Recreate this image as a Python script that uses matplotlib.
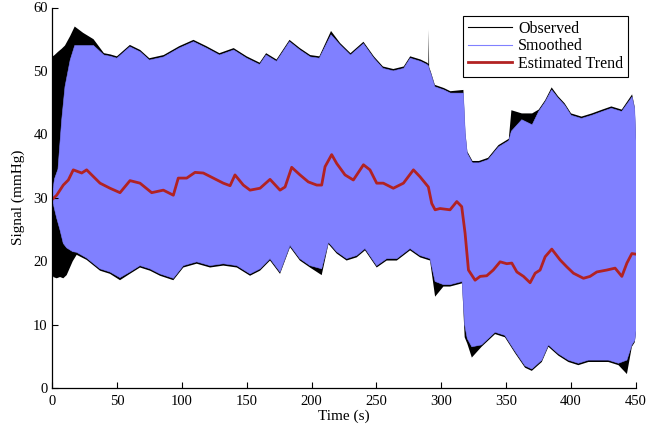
import matplotlib
matplotlib.use("Agg")
import matplotlib.pyplot as plt
from matplotlib.lines import Line2D

# ---- data ----
# upper envelope (time, s)
t_upper = [0, 2, 4.6, 7.5, 10, 14, 17.5, 24, 32, 40, 45, 50, 60, 68, 75, 86, 98, 109, 119, 129,
           140, 150, 160, 165, 173, 183, 191, 199, 206, 215, 222, 230, 240, 248, 255, 263, 271, 276, 284, 289,
           290, 290.3, 290.6, 292, 295, 302, 307, 317, 318.5, 320, 324, 329, 336, 344, 352, 354, 362, 370, 375, 380,
           385, 390, 395, 400, 408, 416, 424, 431, 439, 447, 449, 450]
smoothed_high = [30.5, 33, 34.5, 42.3, 47.5, 51.7, 54.0, 54.0, 54.0, 52.5, 52.3, 52.0, 53.8, 53.0, 51.7, 52.2, 53.6, 54.6, 53.6, 52.5,
                 53.3, 52.0, 51.0, 52.5, 51.5, 54.6, 53.3, 52.2, 52.0, 55.7, 54.1, 52.5, 54.3, 52.0, 50.4, 50.0, 50.4, 52.0, 51.5, 51.0,
                 50.8, 50.6, 50.3, 49.5, 47.5, 47.0, 46.5, 46.5, 40, 37.0, 35.5, 35.5, 36.0, 38.0, 39.0, 40.5, 42.3, 41.5, 43.6, 45.1,
                 47.0, 45.7, 44.6, 43.0, 42.5, 43.0, 43.6, 44.1, 43.6, 45.9, 44, 39]
observed_high = [52.2, 52.5, 53, 53.5, 54, 55.5, 57, 56, 55.0, 52.8, 52.6, 52.3, 54.1, 53.3, 52.0, 52.5, 53.9, 54.9, 53.9, 52.8,
                 53.6, 52.3, 51.3, 52.8, 51.8, 54.9, 53.6, 52.5, 52.3, 56.3, 54.4, 52.8, 54.6, 52.3, 50.7, 50.3, 50.7, 52.3, 51.8, 51.3,
                 51.1, 56.5, 50.6, 49.8, 47.8, 47.3, 46.8, 47.0, 40.3, 37.3, 35.8, 35.8, 36.3, 38.3, 39.3, 43.8, 43.3, 43.3, 43.9, 45.4,
                 47.4, 46.0, 44.9, 43.3, 42.8, 43.3, 43.9, 44.4, 43.9, 46.3, 44.3, 39.3]

# lower envelope
t_lower = [0, 1, 3.6, 6.2, 8.7, 11.3, 16, 19, 26.7, 37, 44.7, 52.4, 60, 67.8, 75.5, 83.2, 93.5, 101.2, 111.5, 121.8,
           132, 142.4, 152.6, 160.3, 168, 175.7, 183.4, 191, 198.8, 207.8, 213, 219.4, 227, 234.8, 241.2, 250.2, 257.9,
           265.7, 275.9, 283.6, 291.3, 295.2, 301.6, 306.7, 316, 318, 320, 323.5, 331, 341.4, 349, 356.8, 364.5, 369.7,
           377.4, 382.5, 390.2, 397.9, 405.6, 413.3, 421, 428.7, 436.5, 443, 446.8, 449, 450]
smoothed_low = [29.2, 29.0, 26.8, 24.9, 22.8, 22.1, 21.5, 21.4, 20.5, 18.8, 18.3, 17.4, 18.3, 19.3, 18.8, 18.0, 17.3, 19.3, 19.9, 19.3,
                19.6, 19.3, 18.0, 18.8, 20.4, 18.3, 22.5, 20.4, 19.3, 18.8, 23.0, 21.5, 20.4, 20.9, 22.0, 19.3, 20.4,
                20.4, 22.0, 20.9, 20.4, 16.8, 16.3, 16.3, 16.8, 10, 7.8, 6.5, 6.8, 8.8, 8.3, 5.8, 3.5, 3.0,
                4.4, 6.8, 5.4, 4.4, 3.9, 4.4, 4.4, 4.4, 3.9, 4.4, 6.8, 7.5, 9]
observed_low = [18.5, 17.5, 17.3, 17.5, 17.3, 17.8, 20.0, 21.0, 20.2, 18.5, 18.0, 17.0, 18.0, 19.0, 18.5, 17.7, 17.0, 19.0, 19.6, 19.0,
                19.3, 19.0, 17.7, 18.5, 20.1, 18.0, 22.2, 20.1, 19.0, 17.8, 22.7, 21.2, 20.1, 20.6, 21.7, 19.0, 20.1,
                20.1, 21.7, 20.6, 20.1, 14.4, 16.0, 16.0, 16.5, 8.0, 7.0, 4.8, 6.5, 8.5, 8.0, 5.5, 3.2, 2.7,
                4.1, 6.5, 5.1, 4.1, 3.6, 4.1, 4.1, 4.1, 3.6, 2.2, 6.5, 7.2, 8.7]

# estimated trend
t_trend = [0, 3.6, 8.7, 12.6, 16.4, 22.9, 26.7, 30.6, 37, 44.7, 52.4, 60.1, 67.8, 76.8, 85.8, 93.5, 97.3, 103.8, 110.2, 116.6,
           124.3, 132, 137.2, 141, 147.4, 152.6, 160.3, 168, 175.7, 179.6, 184.7, 191.1, 197.5, 204, 207.8, 210.4, 215.5, 219.4,
           225.8, 232.2, 240, 245, 250.2, 255.3, 263, 270.8, 278.5, 283.6, 290, 292.6, 295.2, 299, 306.7, 311.9, 315.7, 318.3,
           320.9, 326, 329.9, 335, 340, 345.3, 350.4, 354.3, 358.2, 363.3, 368.4, 372.3, 376.1, 380, 385.1, 391.5, 396.7, 401.8,
           409.5, 414.6, 419.8, 427.5, 433.9, 439.1, 443, 446.8, 450]
trend = [29.7, 30.4, 32.0, 32.8, 34.4, 33.9, 34.4, 33.6, 32.3, 31.5, 30.8, 32.7, 32.3, 30.8, 31.2, 30.4, 33.1, 33.1, 34.0, 33.9,
         33.1, 32.3, 31.9, 33.6, 32.0, 31.2, 31.5, 32.9, 31.2, 31.7, 34.8, 33.6, 32.5, 32.0, 32.0, 34.9, 36.8, 35.4,
         33.6, 32.8, 35.2, 34.4, 32.3, 32.3, 31.5, 32.3, 34.4, 33.3, 31.7, 29.1, 28.1, 28.3, 28.1, 29.4, 28.6, 24.4,
         18.6, 17.0, 17.6, 17.7, 18.6, 19.9, 19.6, 19.7, 18.3, 17.6, 16.6, 18.1, 18.6, 20.7, 21.9, 20.2, 19.1, 18.1,
         17.3, 17.6, 18.3, 18.6, 18.9, 17.6, 19.7, 21.2, 21.1]

x_ticks = [0, 50, 100, 150, 200, 250, 300, 350, 400, 450]
y_ticks = [0, 10, 20, 30, 40, 50, 60]
labels = ["Observed", "Smoothed", "Estimated Trend"]

OBS_C = "#000000"
SM_C = "#8080ff"
TR_C = "#b22222"

plt.rcParams["font.family"] = ["Liberation Serif", "DejaVu Serif"]

fig = plt.figure(figsize=(6.48, 4.28), dpi=100)
ax = fig.add_axes([52 / 648, 40 / 428, 584 / 648, 380.5 / 428])


def band(t_hi, hi, t_lo, lo, color, lw):
    xs = list(t_hi) + list(t_lo)[::-1]
    ys = list(hi) + list(lo)[::-1]
    ax.fill(xs, ys, color=color, lw=lw, ec=color)


band(t_upper, observed_high, t_lower, observed_low, OBS_C, 0)
band(t_upper, smoothed_high, t_lower, smoothed_low, SM_C, 0.4)
ax.plot(t_trend, trend, color=TR_C, lw=2.0)

ax.set_xlim(0, 450)
ax.set_ylim(0, 60)
ax.set_xticks(x_ticks)
ax.set_yticks(y_ticks)
ax.tick_params(direction="in", length=4, width=0.8, labelsize=10.5, colors="black")
ax.tick_params(axis="x", pad=5)
ax.tick_params(axis="y", pad=3)
for s in ["top", "right"]:
    ax.spines[s].set_visible(False)
for s in ["left", "bottom"]:
    ax.spines[s].set_linewidth(0.9)
    ax.spines[s].set_color("black")

ax.set_xlabel("Time (s)", fontsize=11, labelpad=1)
ax.set_ylabel("Signal (mmHg)", fontsize=11, labelpad=6)

handles = [Line2D([], [], color=OBS_C, lw=0.8),
           Line2D([], [], color=SM_C, lw=0.8),
           Line2D([], [], color=TR_C, lw=2.0)]
leg = ax.legend(handles, labels, loc="upper right", bbox_to_anchor=(0.986, 0.978),
                fontsize=11.5, frameon=True, fancybox=False, framealpha=1,
                edgecolor="black", handlelength=2.8, handletextpad=0.35,
                labelspacing=0.1, borderpad=0.3, borderaxespad=0)
leg.get_frame().set_linewidth(0.8)

fig.savefig("out.png", dpi=100)
